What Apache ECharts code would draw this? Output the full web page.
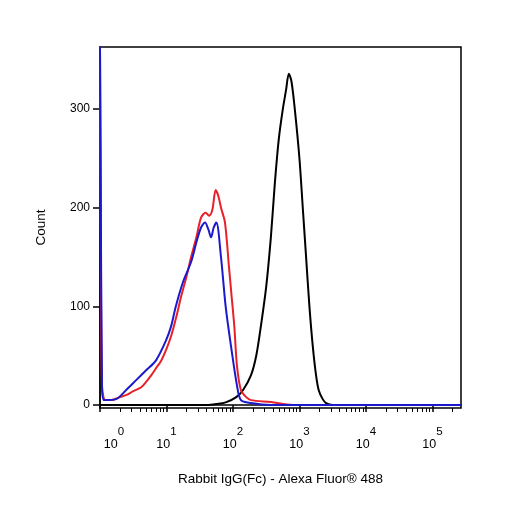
<!DOCTYPE html>
<html><head><meta charset="utf-8">
<script src="https://cdn.jsdelivr.net/npm/echarts@6/dist/echarts.min.js"></script>
<style>html,body{margin:0;padding:0;background:#fff}#c{width:506px;height:506px}</style>
</head><body><div id="c"></div>
<script>
// x values are log10 of fluorescence
const blackX = [0,1.6,1.75,1.9,2.05,2.15,2.27,2.35,2.42,2.5,2.57,2.63,2.69,2.75,2.8,2.84,2.88,2.93,3.0,3.05,3.1,3.15,3.2,3.25,3.29,3.35,3.4,3.5,5.43];
const blackY = [0,0,1,3,8,15,30,50,80,120,170,225,270,300,320,336,328,300,250,200,150,100,60,30,15,6,2,0,0];
const redX = [0,0.01,0.03,0.08,0.17,0.3,0.39,0.5,0.62,0.7,0.77,0.85,0.92,1.0,1.07,1.15,1.22,1.3,1.37,1.45,1.52,1.59,1.64,1.69,1.74,1.78,1.82,1.88,1.94,1.98,2.02,2.06,2.12,2.2,2.27,2.57,2.9,5.43];
const redY = [363,200,20,5,5,8,10,14,18,24,30,38,45,57,70,90,110,130,150,170,190,195,192,198,218,212,200,185,140,110,80,40,15,8,5,3,0,0];
const blueX = [0,0.01,0.03,0.06,0.24,0.39,0.54,0.69,0.84,0.99,1.07,1.14,1.25,1.37,1.45,1.52,1.58,1.63,1.67,1.71,1.75,1.82,1.89,1.97,2.06,2.12,2.27,2.57,5.43];
const blueY = [363,250,20,5,6,15,25,35,45,65,80,100,125,145,165,180,185,178,170,180,185,150,100,60,20,5,2,0,0];
const majorTicks = [0,1,2,3,4,5];
const minorTicks = [];
for (let d=0; d<6; d++) for (let k=2; k<10; k++) { const v=d+Math.log10(k); if (v<5.43) minorTicks.push(v); }
const yTicks = [0,100,200,300];

const chart = echarts.init(document.getElementById('c'));
const font = 'Liberation Sans, Arial, sans-serif';
const mk = (x,y)=>x.map((v,i)=>[v,y[i]]);
const ser = (x,y,c)=>({type:'line',data:mk(x,y),smooth:0.3,showSymbol:false,lineStyle:{color:c,width:2},z:c==='#000000'?1:2});
chart.setOption({
  animation:false,
  grid:{left:100,right:45,top:47,bottom:98,show:true,borderColor:'#000',borderWidth:1.5},
  xAxis:[{type:'value',min:0,max:5.43,position:'bottom',
    name:'Rabbit IgG(Fc) - Alexa Fluor® 488',nameLocation:'middle',nameGap:64,
    nameTextStyle:{fontFamily:font,fontSize:13.5,color:'#000'},
    axisLine:{show:true,lineStyle:{color:'#000',width:1.5}},
    axisTick:{show:true,customValues:majorTicks,length:7,lineStyle:{color:'#000',width:1.5}},
    splitLine:{show:false},
    axisLabel:{customValues:majorTicks,margin:18,
      formatter:v=>'{b'+(v===0?'f':'')+'|10}{s|'+Math.round(v)+'}',
      rich:{b:{fontFamily:font,fontSize:12.5,color:'#000',verticalAlign:'bottom',padding:[12,0,0,0]},
            bf:{fontFamily:font,fontSize:12.5,color:'#000',verticalAlign:'bottom',padding:[12,0,0,28]},
            s:{fontFamily:font,fontSize:11.5,color:'#000',verticalAlign:'top',padding:[0,0,12,0]}}}},
   {type:'value',min:0,max:5.43,position:'bottom',axisLine:{show:false},
    axisTick:{show:true,customValues:minorTicks,length:4,lineStyle:{color:'#000',width:1}},
    axisLabel:{show:false},splitLine:{show:false}}],
  yAxis:{type:'value',min:-3,max:363,
    name:'Count',nameLocation:'middle',nameGap:52,nameTextStyle:{fontFamily:font,fontSize:13.5,color:'#000'},
    axisLine:{show:true,lineStyle:{color:'#000',width:1.5}},
    axisTick:{show:true,customValues:yTicks,length:7,lineStyle:{color:'#000',width:1.5}},
    axisLabel:{customValues:yTicks,fontFamily:font,fontSize:12,color:'#000',margin:10},
    splitLine:{show:false}},
  series:[ser(blackX,blackY,'#000000'),ser(redX,redY,'#e8202a'),ser(blueX,blueY,'#1a1acc')]
});
</script></body></html>
